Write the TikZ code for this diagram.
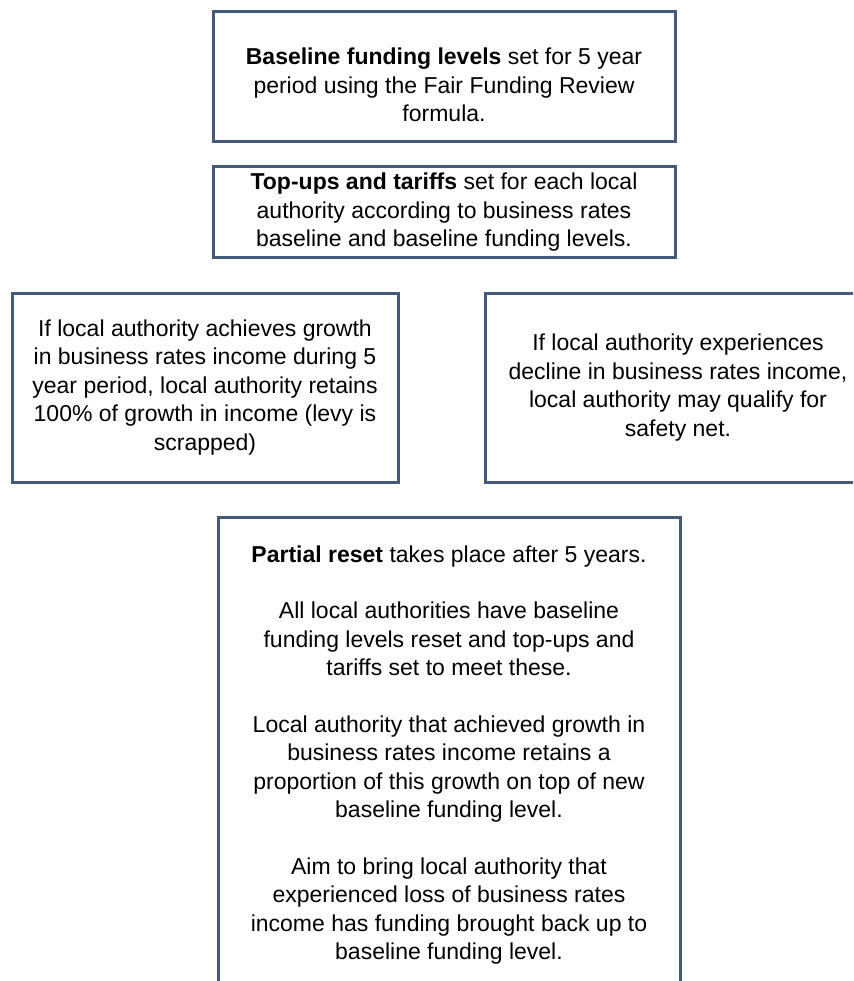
\documentclass[tikz,border=0pt]{standalone}
\usepackage{fontspec}
\setmainfont{Liberation Sans}
\usetikzlibrary{positioning}
\definecolor{boxblue}{RGB}{68,90,122}
\tikzset{infobox/.style = {draw=boxblue, line width=3, fill=white, align=center,
                           inner sep=0, font=\fontsize{23}{28.5}\selectfont}}
\tikzset{wide/.style = {minimum width=462}}
\tikzset{side/.style = {minimum width=386, minimum height=189}}

\begin{document}
\begin{tikzpicture}[x=1pt, y=-1pt]
    \useasboundingbox (0, 0) rectangle (853, 981);
    \clip (0, 0) rectangle (853, 981);

    \node [infobox, wide, minimum height=130] (baseline) at (444, 77)
        {\rule{0pt}{33pt}\textbf{Baseline funding levels} set for 5 year\\
         period using the Fair Funding Review\\
         formula.};

    \node [infobox, wide, minimum height=91] (topups) at (444, 212.5)
        {\textbf{Top-ups and tariffs} set for each local\\
         authority according to business rates\\
         baseline and baseline funding levels.};

    \node [infobox, side] (growth) at (205, 387.5)
        {If local authority achieves growth\\
         in business rates income during 5\\
         year period, local authority retains\\
         100\% of growth in income (levy is\\
         scrapped)};

    \node [infobox, side, right=84 of growth] (decline)
        {If local authority experiences\\
         decline in business rates income,\\
         local authority may qualify for\\
         safety net.};

    \node [infobox, wide, inner ysep=28, anchor=north] (reset) at (449, 516)
        {\textbf{Partial reset} takes place after 5 years.\\[28pt]
         All local authorities have baseline\\
         funding levels reset and top-ups and\\
         tariffs set to meet these.\\[28pt]
         Local authority that achieved growth in\\
         business rates income retains a\\
         proportion of this growth on top of new\\
         baseline funding level.\\[28pt]
         Aim to bring local authority that\\
         experienced loss of business rates\\
         income has funding brought back up to\\
         baseline funding level.};
\end{tikzpicture}
\end{document}
